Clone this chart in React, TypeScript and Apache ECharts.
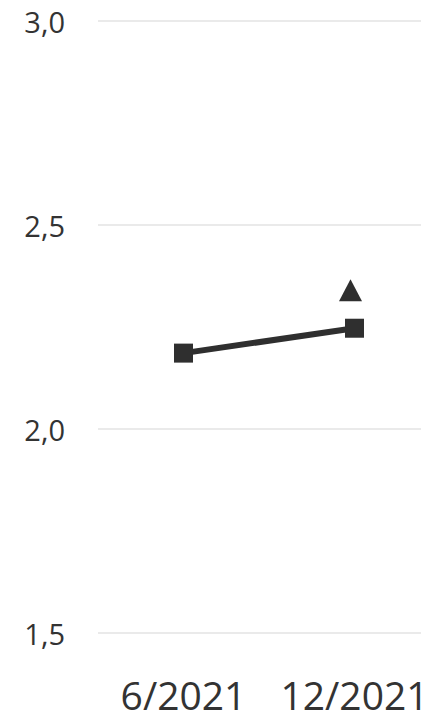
import React, { useEffect, useRef } from "react";
import * as echarts from "echarts";

const categories = ["6/2021", "12/2021"];
const lineValues = [2.186, 2.247];
const triangleValues: (number | null)[] = [null, 2.34];
const yMin = 1.5;
const yMax = 3.0;
const yInterval = 0.5;

export default function App() {
  const ref = useRef<HTMLDivElement>(null);
  useEffect(() => {
    if (!ref.current) return;
    const chart = echarts.init(ref.current, undefined, { renderer: "svg" });
    chart.setOption({
      animation: false,
      textStyle: { fontFamily: "Open Sans" },
      grid: { left: 98, right: 0, top: 21, bottom: 79 },
      xAxis: {
        type: "category",
        data: categories,
        boundaryGap: true,
        axisLine: { show: false },
        axisTick: { show: false },
        axisLabel: {
          color: "#333333",
          fontSize: 39,
          margin: 42,
          interval: 0,
          hideOverlap: false,
          fontFamily: "Open Sans",
        },
      },
      yAxis: {
        type: "value",
        min: yMin,
        max: yMax,
        interval: yInterval,
        axisLine: { show: false },
        axisTick: { show: false },
        axisLabel: {
          color: "#333333",
          fontSize: 29,
          margin: 33,
          fontFamily: "Open Sans",
          formatter: (v: number) => v.toFixed(1).replace(".", ","),
        },
        splitLine: { lineStyle: { color: "#e3e3e3", width: 1.5 } },
      },
      series: [
        {
          type: "line",
          data: lineValues,
          symbol: "rect",
          symbolSize: 19,
          lineStyle: { color: "#2f2f2f", width: 6 },
          itemStyle: { color: "#2f2f2f" },
        },
        {
          type: "line",
          data: triangleValues,
          symbol: "triangle",
          symbolSize: [23, 22],
          symbolOffset: [-4, 0],
          lineStyle: { width: 0 },
          itemStyle: { color: "#2f2f2f" },
        },
      ],
    });
    return () => chart.dispose();
  }, []);
  return (
    <div style={{ position: "absolute", left: 0, top: 0, width: 421, height: 714, overflow: "hidden", background: "#ffffff" }}>
      <div ref={ref} style={{ width: 440, height: 714 }} />
    </div>
  );
}
